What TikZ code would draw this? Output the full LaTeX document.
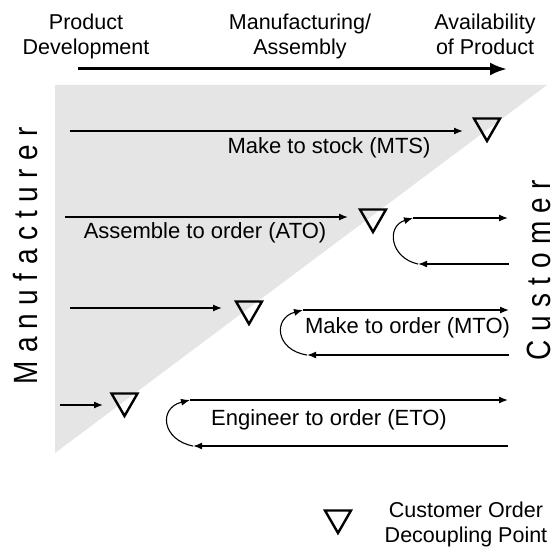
\documentclass[tikz,border=0pt]{standalone}
\usepackage{fontspec}
\setmainfont{Liberation Sans}
\usepackage{graphicx}
\usetikzlibrary{arrows.meta,shapes.geometric}
\begin{document}
\begin{tikzpicture}[x=1pt,y=-1pt,
  lbl/.style={font=\fontsize{22}{25}\selectfont, inner sep=0pt, anchor=base},
  ml/.style={font=\fontsize{21.5}{25}\selectfont, inner sep=0pt, align=center, anchor=base},
  side/.style={font=\fontsize{28}{30}\selectfont\addfontfeature{LetterSpace=30}, inner sep=0pt, rotate=90},
  codp/.style={regular polygon, regular polygon sides=3, shape border rotate=180, draw, line width=2.4pt, inner sep=0pt, minimum size=30pt},
  flow/.style={line width=1.3pt, -{Latex[length=9pt,width=7pt]}},
  back/.style={line width=1.6pt, -{Latex[length=9pt,width=7pt]}},
  loopc/.style={line width=1.1pt, -{Latex[length=9pt,width=7pt]}},
  mainarrow/.style={line width=3pt, -{Latex[length=17pt,width=13pt]}}
]
\useasboundingbox (0,0) rectangle (557,551);
\fill[gray!20] (55,85) -- (547,85) -- (55,453) -- cycle;

% top axis
\node[ml] (pd) at (86,55) {Product\\Development};
\node[ml] (ma) at (300,55) {Manufacturing/\\Assembly};
\node[ml] (av) at (485,55) {Availability\\of Product};
\coordinate (axS) at (78,69);
\coordinate (axE) at (507,69);
\draw[mainarrow] (axS) -- (axE);

% side labels
\node[side] (manu) at (26,256) {\scalebox{1}[1.2]{Manufacturer}};
\node[side] (cust) at (539,270) {\scalebox{1}[1.2]{Customer}};

% decoupling points
\node[codp] (tMTS) at (487,126) {};
\node[codp] (tATO) at (373,217) {};
\node[codp] (tMTO) at (249,309) {};
\node[codp] (tETO) at (124.5,401) {};
\node[codp] (tLeg) at (338,518) {};

% MTS
\coordinate (mtsS) at (70,131);
\coordinate (mtsE) at (463,131);
\draw[flow] (mtsS) -- (mtsE);
\node[lbl] (lMTS) at (329,153) {Make to stock (MTS)};

% ATO
\coordinate (atoS) at (65,217);
\coordinate (atoE) at (348,217);
\draw[flow] (atoS) -- (atoE);
\node[lbl] (lATO) at (205,238) {Assemble to order (ATO)};
\coordinate (atoU1) at (413,218);
\coordinate (atoU2) at (508,218);
\coordinate (atoL1) at (509,264);
\coordinate (atoL2) at (418,264);
\draw[back] (atoL1) -- (atoL2);
\draw[loopc] (atoL2) .. controls (390,258) and (386,226) .. (atoU1);
\draw[flow] (atoU1) -- (atoU2);

% MTO
\coordinate (mtoS) at (70,308);
\coordinate (mtoE) at (222,308);
\draw[flow] (mtoS) -- (mtoE);
\coordinate (mtoU1) at (303,310);
\coordinate (mtoU2) at (509,310);
\coordinate (mtoL1) at (509,355);
\coordinate (mtoL2) at (307,355);
\draw[back] (mtoL1) -- (mtoL2);
\draw[loopc] (mtoL2) .. controls (275,350) and (273,318) .. (mtoU1);
\draw[flow] (mtoU1) -- (mtoU2);
\node[lbl] (lMTO) at (407.5,333) {Make to order (MTO)};

% ETO
\coordinate (etoS) at (60,405);
\coordinate (etoE) at (103,405);
\draw[flow] (etoS) -- (etoE);
\coordinate (etoU1) at (190,400);
\coordinate (etoU2) at (508,400);
\coordinate (etoL1) at (508,446);
\coordinate (etoL2) at (193,446);
\draw[back] (etoL1) -- (etoL2);
\draw[loopc] (etoL2) .. controls (162,440) and (158,408) .. (etoU1);
\draw[flow] (etoU1) -- (etoU2);
\node[lbl] (lETO) at (329,425) {Engineer to order (ETO)};

% legend
\node[ml] (leg) at (466,542) {Customer Order\\Decoupling Point};
\end{tikzpicture}
\end{document}
